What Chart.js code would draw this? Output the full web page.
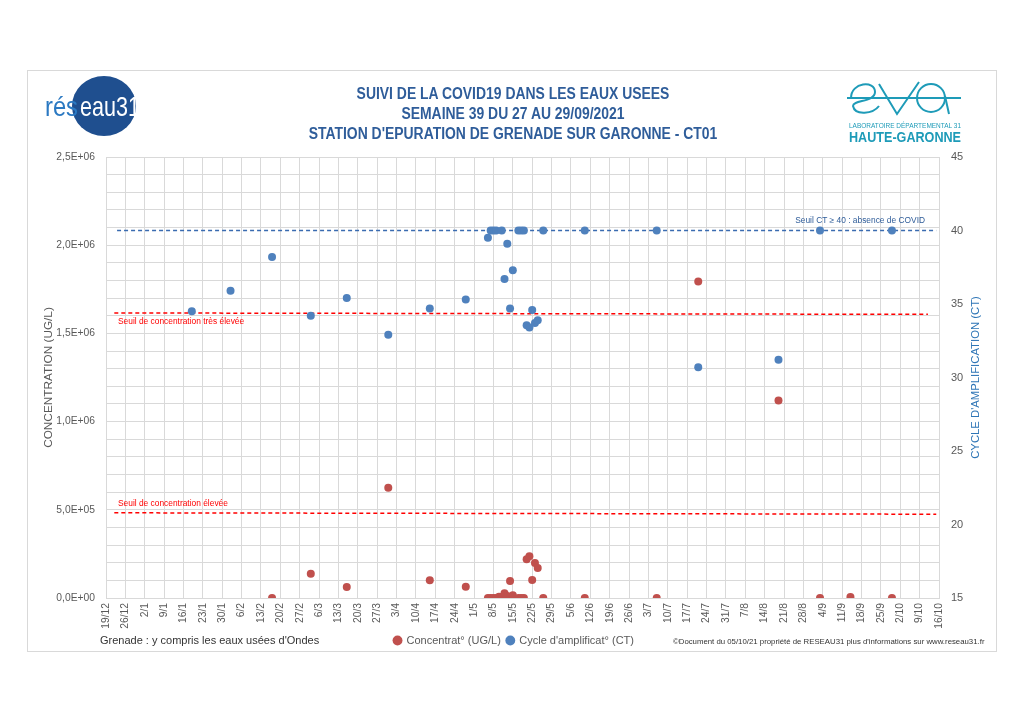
<!DOCTYPE html>
<html lang="fr">
<head>
<meta charset="utf-8">
<title>Suivi COVID19 eaux usées - Grenade</title>
<script src="https://cdn.jsdelivr.net/npm/chart.js@4.4.1/dist/chart.umd.min.js"></script>
<style>
  html, body { margin: 0; padding: 0; background: #fff; }
  #page { position: relative; width: 1024px; height: 724px; overflow: hidden; font-family: "Liberation Sans", sans-serif; }
  #frame { position: absolute; left: 27px; top: 70px; width: 970px; height: 582px; border: 1px solid #d9d9d9; box-sizing: border-box; }
  #chart { position: absolute; left: 0; top: 0; }
  .title { position: absolute; left: 0; width: 1026px; text-align: center; color: #2f5d9a; font-weight: bold; font-size: 16px; transform: scaleX(0.87); }
  .note { position: absolute; color: #333; white-space: nowrap; }
</style>
</head>
<body>
<div id="page">
  <div id="frame"></div>
  <canvas id="chart" width="1024" height="724"></canvas>

  <div class="title" style="top:85px">SUIVI DE LA COVID19 DANS LES EAUX USEES</div>
  <div class="title" style="top:105px">SEMAINE 39 DU 27 AU 29/09/2021</div>
  <div class="title" style="top:125px">STATION D'EPURATION DE GRENADE SUR GARONNE - CT01</div>

  <!-- logo réseau31 -->
  <svg style="position:absolute;left:40px;top:72px" width="110" height="70">
    <ellipse cx="64" cy="34" rx="32" ry="30" fill="#1f4f8f"/>
    <text x="5" y="44" textLength="33" lengthAdjust="spacingAndGlyphs" font-family="Liberation Sans, sans-serif" font-size="28" fill="#2b79c2">rés</text>
    <text x="40" y="44" textLength="60" lengthAdjust="spacingAndGlyphs" font-family="Liberation Sans, sans-serif" font-size="28" fill="#ffffff">eau31</text>
  </svg>

  <!-- logo eva -->
  <svg style="position:absolute;left:845px;top:76px" width="120" height="70">
    <g fill="none" stroke="#1e9bb8" stroke-width="2">
      <line x1="2" y1="22" x2="116" y2="22"/>
      <path d="M6 22 C6 6, 30 4, 30 16 C30 26, 8 24, 8 30 C10 40, 28 38, 34 30"/>
      <path d="M34 8 L52 38 L74 6"/>
      <ellipse cx="86" cy="22" rx="14" ry="14"/>
      <path d="M100 20 L104 38"/>
    </g>
    <text x="4" y="52" textLength="112" lengthAdjust="spacingAndGlyphs" font-family="Liberation Sans, sans-serif" font-size="7" fill="#1e9bb8">LABORATOIRE DÉPARTEMENTAL 31</text>
    <text x="4" y="66" textLength="112" lengthAdjust="spacingAndGlyphs" font-family="Liberation Sans, sans-serif" font-size="14" font-weight="bold" fill="#1e9bb8">HAUTE-GARONNE</text>
  </svg>

  <div class="note" style="left:100px;top:634px;font-size:11px;">Grenade : y compris les eaux usées d'Ondes</div>
  <div class="note" style="left:673px;top:637px;font-size:7.8px;">©Document du 05/10/21 propriété de RESEAU31 plus d'informations sur www.reseau31.fr</div>
</div>

<script>
// jour 0 de l'axe = 19/12/2020, fin = 16/10/2021
const axisStart = '2020-12-19';
const axisEnd = '2021-10-16';

const sampleDates = [
  '2021-01-19', '2021-02-02', '2021-02-17', '2021-03-03', '2021-03-16', '2021-03-31',
  '2021-04-15', '2021-04-28', '2021-05-06', '2021-05-07', '2021-05-08', '2021-05-09',
  '2021-05-10', '2021-05-11', '2021-05-12', '2021-05-13', '2021-05-14', '2021-05-15',
  '2021-05-17', '2021-05-18', '2021-05-19', '2021-05-20', '2021-05-21', '2021-05-22',
  '2021-05-23', '2021-05-24', '2021-05-26', '2021-06-10', '2021-07-06', '2021-07-21',
  '2021-08-19', '2021-09-03', '2021-09-14', '2021-09-29'
];

// Concentrat° (UG/L)
const concentration = [
  null, null, 0, 138000, 63000, 625000,
  100000, 64000, 0, 0, 0, 0,
  7000, 0, 27000, 11000, 97000, 15000,
  0, 0, 0, 220000, 237000, 102000,
  199000, 170000, 0, 0, 0, 1794000,
  1119000, 0, 6000, 0
];

// Cycle d'amplificat° (CT)
const cycleCT = [
  34.5, 35.9, 38.2, 34.2, 35.4, 32.9,
  34.7, 35.3, 39.5, 40, 40, 40,
  null, 40, 36.7, 39.1, 34.7, 37.3,
  40, 40, 40, 33.55, 33.4, 34.6,
  33.7, 33.9, 40, 40, 40, 30.7,
  31.2, 40, null, 40
];

// seuils (début, fin)
const highSpan = ['2020-12-22', '2021-10-12'];
const highValues = [1616000, 1608000];
const lowSpan = ['2020-12-22', '2021-10-15'];
const lowValues = [483000, 475000];
const ctSpan = ['2020-12-23', '2021-10-15'];
const ctValues = [40, 40];

const leftTicksMax = 2500000;
const rightTicks = [15, 45];

function dayOf(s) {
  const [y, m, d] = s.split('-').map(Number);
  const [y0, m0, d0] = axisStart.split('-').map(Number);
  return Math.round((Date.UTC(y, m - 1, d) - Date.UTC(y0, m0 - 1, d0)) / 86400000);
}

function fmtDay(v) {
  const [y0, m0, d0] = axisStart.split('-').map(Number);
  const dt = new Date(Date.UTC(y0, m0 - 1, d0) + v * 86400000);
  return dt.getUTCDate() + '/' + (dt.getUTCMonth() + 1);
}

function fmtSci(v) {
  const n = Math.round(v / 100000);
  if (n % 5 !== 0) return '';
  if (n === 0) return '0,0E+00';
  const val = n * 100000;
  const exp = Math.floor(Math.log10(val));
  const mant = (val / Math.pow(10, exp)).toFixed(1).replace('.', ',');
  return mant + 'E+' + String(exp).padStart(2, '0');
}

const pts = (vals) => sampleDates
  .map((d, i) => ({ x: dayOf(d), y: vals[i] }))
  .filter((p) => p.y != null);
const seg = (span, vals) => span.map((d, i) => ({ x: dayOf(d), y: vals[i] }));

const RED = '#c0504d';
const BLUE = '#4f81bd';
const FONT = '"Liberation Sans", sans-serif';

// textes des seuils et titres d'axes
const annotations = {
  id: 'annotations',
  afterDatasetsDraw(chart) {
    const { ctx, chartArea, scales } = chart;
    ctx.save();
    ctx.font = '8.4px ' + FONT;
    ctx.fillStyle = '#ff0000';
    ctx.textBaseline = 'middle';
    ctx.fillText('Seuil de concentration très élevée', chartArea.left + 12, scales.y.getPixelForValue(highValues[0]) + 9);
    ctx.fillText('Seuil de concentration élevée', chartArea.left + 12, scales.y.getPixelForValue(lowValues[0]) - 9);
    ctx.fillStyle = '#2e5c99';
    ctx.textAlign = 'right';
    ctx.fillText('Seuil CT \u2265 40 : absence de COVID', chartArea.right - 14, scales.y2.getPixelForValue(ctValues[0]) - 10);

    const midY = (chartArea.top + chartArea.bottom) / 2;
    ctx.textAlign = 'center';
    ctx.translate(49, midY);
    ctx.rotate(-Math.PI / 2);
    ctx.font = '11.8px ' + FONT;
    ctx.fillStyle = '#595959';
    ctx.fillText('CONCENTRATION (UG/L)', 0, 0);
    ctx.restore();

    ctx.save();
    ctx.translate(976, midY);
    ctx.rotate(-Math.PI / 2);
    ctx.textAlign = 'center';
    ctx.textBaseline = 'middle';
    ctx.font = '11.3px ' + FONT;
    ctx.fillStyle = '#2e75b6';
    ctx.fillText("CYCLE D'AMPLIFICATION (CT)", 0, 0);
    ctx.restore();
  }
};

const tickFont = { family: FONT, size: 10.3 };

new Chart(document.getElementById('chart'), {
  type: 'scatter',
  data: {
    datasets: [
      {
        label: 'Concentrat° (UG/L)',
        data: pts(concentration),
        yAxisID: 'y',
        backgroundColor: RED,
        borderColor: RED,
        pointRadius: 4,
        pointBorderWidth: 0,
      },
      {
        label: "Cycle d'amplificat° (CT)",
        data: pts(cycleCT),
        yAxisID: 'y2',
        backgroundColor: BLUE,
        borderColor: BLUE,
        pointRadius: 4,
        pointBorderWidth: 0,
      },
      {
        label: 'seuil très élevé',
        type: 'line',
        data: seg(highSpan, highValues),
        yAxisID: 'y',
        borderColor: '#ff0000',
        borderWidth: 1.5,
        borderDash: [4, 3],
        pointRadius: 0,
        order: 3,
      },
      {
        label: 'seuil élevé',
        type: 'line',
        data: seg(lowSpan, lowValues),
        yAxisID: 'y',
        borderColor: '#ff0000',
        borderWidth: 1.5,
        borderDash: [4, 3],
        pointRadius: 0,
        order: 3,
      },
      {
        label: 'seuil CT',
        type: 'line',
        data: seg(ctSpan, ctValues),
        yAxisID: 'y2',
        borderColor: '#3a6bb0',
        borderWidth: 1.3,
        borderDash: [4, 3],
        pointRadius: 0,
        order: 3,
      },
    ],
  },
  options: {
    responsive: false,
    animation: false,
    layout: { padding: { left: 40, right: 36, top: 157, bottom: 68 } },
    plugins: {
      legend: {
        position: 'bottom',
        labels: {
          filter: (item) => item.datasetIndex < 2,
          usePointStyle: true,
          pointStyle: 'circle',
          boxHeight: 7,
          boxWidth: 7,
          padding: 6,
          color: '#595959',
          font: { family: FONT, size: 11 },
        },
      },
      tooltip: { enabled: false },
    },
    scales: {
      x: {
        type: 'linear',
        min: 0,
        max: dayOf(axisEnd),
        afterFit: (s) => { s.height = 31; },
        grid: { color: '#d9d9d9', drawTicks: false },
        border: { color: '#d9d9d9' },
        ticks: {
          stepSize: 7,
          autoSkip: false,
          maxRotation: 90,
          minRotation: 90,
          padding: 5,
          color: '#595959',
          font: tickFont,
          callback: (v) => fmtDay(v),
        },
      },
      y: {
        position: 'left',
        min: 0,
        max: leftTicksMax,
        afterFit: (s) => { s.width = 66; },
        grid: { color: '#d9d9d9', drawTicks: false },
        border: { color: '#d9d9d9' },
        ticks: {
          stepSize: 100000,
          autoSkip: false,
          padding: 11,
          color: '#595959',
          font: tickFont,
          callback: (v) => fmtSci(v),
        },
      },
      y2: {
        position: 'right',
        min: rightTicks[0],
        max: rightTicks[1],
        afterFit: (s) => { s.width = 49; },
        grid: { display: false, drawTicks: false },
        border: { color: '#d9d9d9' },
        ticks: {
          stepSize: 5,
          padding: 12,
          color: '#595959',
          font: { family: FONT, size: 11 },
        },
      },
    },
  },
  plugins: [annotations],
});
</script>
</body>
</html>
